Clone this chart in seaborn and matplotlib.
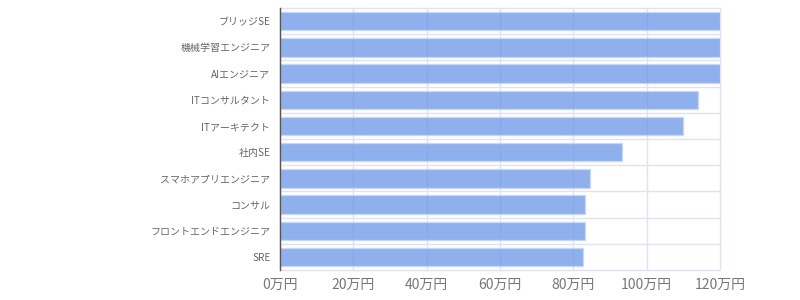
import matplotlib
matplotlib.use("Agg")
import matplotlib.pyplot as plt
import seaborn as sns
import numpy as np
import pandas as pd
from matplotlib.ticker import FixedLocator

categories = ["ブリッジSE", "機械学習エンジニア", "AIエンジニア", "ITコンサルタント", "ITアーキテクト",
              "社内SE", "スマホアプリエンジニア", "コンサル", "フロントエンドエンジニア", "SRE"]
values = [120, 120, 120, 114.1, 110.0, 93.3, 84.5, 83.3, 83.1, 82.5]
xticks = [0, 20, 40, 60, 80, 100, 120]
xticklabels = ["0万円", "20万円", "40万円", "60万円", "80万円", "100万円", "120万円"]

sns.set_theme(style="white")
plt.rcParams['font.family'] = ['Noto Sans CJK JP', 'DejaVu Sans']

df = pd.DataFrame({"cat": categories, "val": values})
fig = plt.figure(figsize=(8, 3), dpi=100)
ax = fig.add_axes([0.35, 0.1, 0.55, 0.873])
sns.barplot(data=df, x="val", y="cat", orient="h", color="#6b95e8", alpha=0.75,
            width=0.7, edgecolor="#c9d7f5", linewidth=1, saturation=1, ax=ax, zorder=1)
ax.set_xlim(0, 120)
ax.set_ylim(len(categories) - 0.5, -0.5)
ax.set_xticks(xticks)
ax.set_xticklabels(xticklabels, fontsize=10, color="#777777")
ax.set_xlabel("")
ax.set_ylabel("")
ax.tick_params(axis="y", which="major", length=0, labelsize=7.2, labelcolor="#666666", pad=7)
ax.tick_params(axis="x", which="major", length=0, pad=6)
ax.yaxis.set_minor_locator(FixedLocator(np.arange(-0.5, len(categories), 1)))
ax.tick_params(axis="y", which="minor", length=5, width=1, color="#555555", direction="out")
ax.set_axisbelow(True)
ax.grid(axis="x", which="major", color="#dde3f2", linewidth=1, zorder=0)
ax.grid(axis="y", which="minor", color="#dde3f2", linewidth=1, zorder=0)
for t in ax.xaxis.get_major_ticks():
    t.gridline.set_clip_on(False)
for t in ax.yaxis.get_minor_ticks():
    t.gridline.set_clip_on(False)
for s in ["top", "right", "bottom"]:
    ax.spines[s].set_visible(False)
ax.spines["left"].set_color("#555555")
ax.spines["left"].set_linewidth(1)
fig.savefig("out.png", dpi=100)
